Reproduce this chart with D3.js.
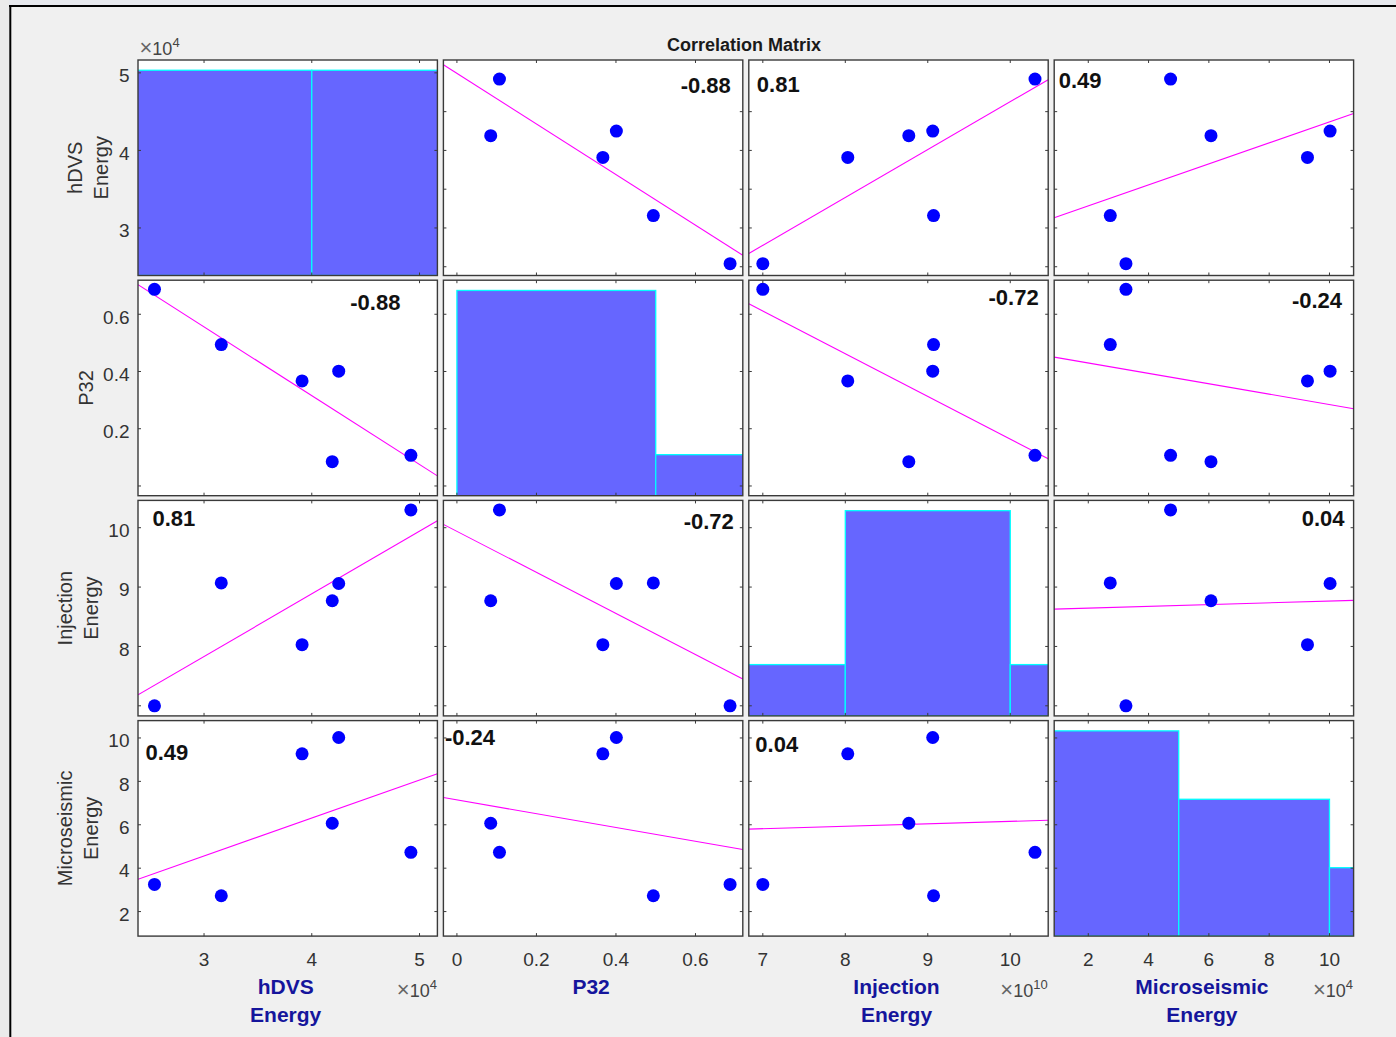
<!DOCTYPE html>
<html>
<head>
<meta charset="utf-8">
<script src="https://cdn.jsdelivr.net/npm/d3@7"></script>
<style>
  html, body { margin: 0; padding: 0; background: #f0f0f0; }
  svg { display: block; font-family: "Liberation Sans", Arial, Helvetica, sans-serif; }
</style>
</head>
<body>
<svg id="chart" width="1396" height="1037"></svg>
<script>
// ---- data: six stages, four variables ----
// hDVS energy and microseismic energy in units of 1e4, injection energy in units of 1e10
const labelLines = [["hDVS", "Energy"], ["P32"], ["Injection", "Energy"], ["Microseismic", "Energy"]];
const exponents = ["4", null, "10", "4"];

const hdvsEnergy         = [2.54, 3.16, 3.91, 4.25, 4.19, 4.92];
const p32                = [0.687, 0.494, 0.367, 0.401, 0.085, 0.107];
const injectionEnergy    = [7.00, 9.07, 8.03, 9.06, 8.77, 10.30];
const microseismicEnergy = [3.25, 2.73, 9.27, 10.02, 6.07, 4.73];

// axis limits per variable
const axisLimits = [[2.387, 5.166], [-0.034, 0.719], [6.83, 10.46], [0.87, 10.80]];
// tick marks per variable (x direction and diagonal panels)
const tickValues = [[3, 4, 5], [0, 0.2, 0.4, 0.6], [7, 8, 9, 10], [2, 4, 6, 8, 10]];
// tick marks along y on off-diagonal panels of each row
const rowTickValues = [[2.5, 3, 3.5, 4, 4.5], [0, 0.2, 0.4, 0.6], [7, 8, 9, 10], [2, 4, 6, 8, 10]];
// labelled ticks
const yTickLabels = [[3, 4, 5], [0.2, 0.4, 0.6], [8, 9, 10], [2, 4, 6, 8, 10]];
const xTickLabels = [[3, 4, 5], [0, 0.2, 0.4, 0.6], [7, 8, 9, 10], [2, 4, 6, 8, 10]];
// histogram bin edges on the diagonal
const binEdges = [[2, 4, 6], [0, 0.5, 1.0], [6, 8, 10, 12], [0, 5, 10, 15]];
// Pearson correlation coefficients
const correlations = [
  [1.00, -0.88, 0.81, 0.49],
  [-0.88, 1.00, -0.72, -0.24],
  [0.81, -0.72, 1.00, 0.04],
  [0.49, -0.24, 0.04, 1.00]
];

// ---- layout ----
const series = [hdvsEnergy, p32, injectionEnergy, microseismicEnergy];
const nVar = series.length;
const left0 = 138, top0 = 60, colStep = 305.4, rowStep = 220.2, pw = 299.4, ph = 215.5;
const tickLen = 3;
const axisColor = "#3a3a3a";
const textColor = "#333333";

// where each coefficient sits inside its panel (offset from the left or right edge, baseline from top)
const rLabelPlacement = {
  "0-1": { anchor: "end",   dx: -12,  dy: 32.5 },
  "0-2": { anchor: "start", dx: 8,    dy: 32 },
  "0-3": { anchor: "start", dx: 4.5,  dy: 28 },
  "1-0": { anchor: "end",   dx: -37,  dy: 29.5 },
  "1-2": { anchor: "end",   dx: -9.5, dy: 25 },
  "1-3": { anchor: "end",   dx: -11.5,dy: 28 },
  "2-0": { anchor: "start", dx: 14.5, dy: 26 },
  "2-1": { anchor: "end",   dx: -9,   dy: 29 },
  "2-3": { anchor: "end",   dx: -9,   dy: 26 },
  "3-0": { anchor: "start", dx: 7.5,  dy: 39 },
  "3-1": { anchor: "start", dx: 1.5,  dy: 24 },
  "3-2": { anchor: "start", dx: 6.5,  dy: 31 }
};

const svg = d3.select("#chart");

// figure background and frame
svg.append("rect").attr("width", 1396).attr("height", 1037).attr("fill", "#f0f0f0");
svg.append("rect").attr("x", 0).attr("y", 0).attr("width", 1396).attr("height", 5).attr("fill", "#e7e9ee");
svg.append("rect").attr("x", 0).attr("y", 0).attr("width", 9).attr("height", 1037).attr("fill", "#ebebeb");
svg.append("line").attr("x1", 9).attr("x2", 1396).attr("y1", 6).attr("y2", 6)
  .attr("stroke", "#000").attr("stroke-width", 2);
svg.append("line").attr("x1", 10.3).attr("x2", 10.3).attr("y1", 5).attr("y2", 1037)
  .attr("stroke", "#000").attr("stroke-width", 2);

const xScales = axisLimits.map(d => d3.scaleLinear().domain(d).range([0, pw]));
const yScales = axisLimits.map(d => d3.scaleLinear().domain(d).range([ph, 0]));

// two decimals with a plain hyphen for negatives
const fmtR = v => d3.format(".2f")(v).replace("\u2212", "-");

function leastSquares(xs, ys) {
  const mx = d3.mean(xs), my = d3.mean(ys);
  let sxy = 0, sxx = 0;
  xs.forEach((x, i) => { sxy += (x - mx) * (ys[i] - my); sxx += (x - mx) * (x - mx); });
  const b = sxy / sxx;
  return { a: my - b * mx, b };
}

const defs = svg.append("defs");

for (let r = 0; r < nVar; r++) {
  for (let c = 0; c < nVar; c++) {
    const px = left0 + c * colStep, py = top0 + r * rowStep;
    const g = svg.append("g").attr("transform", `translate(${px},${py})`);
    const clipId = `clip-${r}-${c}`;
    defs.append("clipPath").attr("id", clipId)
      .append("rect").attr("width", pw).attr("height", ph);

    g.append("rect").attr("width", pw).attr("height", ph).attr("fill", "#ffffff");
    const inner = g.append("g").attr("clip-path", `url(#${clipId})`);
    const xs = xScales[c], ys = yScales[r];

    if (r === c) {
      // histogram of the variable
      const vals = series[c];
      const edges = binEdges[c];
      const bins = d3.range(edges.length - 1).map(i => ({
        x0: edges[i], x1: edges[i + 1],
        count: vals.filter(v => v >= edges[i] && (v < edges[i + 1] || (i === edges.length - 2 && v <= edges[i + 1]))).length
      }));
      const yc = d3.scaleLinear().domain([0, d3.max(bins, b => b.count) * 1.05]).range([ph, 0]);
      inner.selectAll("rect.bar").data(bins).join("rect")
        .attr("class", "bar")
        .attr("x", b => xs(b.x0))
        .attr("width", b => xs(b.x1) - xs(b.x0))
        .attr("y", b => yc(b.count))
        .attr("height", b => ph - yc(b.count))
        .attr("fill", "#6666ff")
        .attr("stroke", "#00ffff")
        .attr("stroke-width", 1.3);
    } else {
      // least-squares line and scatter
      const fit = leastSquares(series[c], series[r]);
      const [d0, d1] = xs.domain();
      inner.append("line")
        .attr("x1", xs(d0)).attr("y1", ys(fit.a + fit.b * d0))
        .attr("x2", xs(d1)).attr("y2", ys(fit.a + fit.b * d1))
        .attr("stroke", "#ff00ff").attr("stroke-width", 1.1);
      const pts = series[c].map((v, i) => [v, series[r][i]]);
      inner.selectAll("circle").data(pts).join("circle")
        .attr("cx", d => xs(d[0])).attr("cy", d => ys(d[1]))
        .attr("r", 6.5).attr("fill", "#0000ff");

      const pl = rLabelPlacement[`${r}-${c}`];
      g.append("text")
        .attr("x", pl.anchor === "end" ? pw + pl.dx : pl.dx)
        .attr("y", pl.dy)
        .attr("text-anchor", pl.anchor)
        .attr("font-size", 22).attr("font-weight", "bold").attr("fill", "#111")
        .text(fmtR(correlations[r][c]));
    }

    // panel border
    g.append("rect").attr("width", pw).attr("height", ph)
      .attr("fill", "none").attr("stroke", axisColor).attr("stroke-width", 1.4);

    // inward ticks on all four sides
    const xt = tickValues[c];
    const ytVals = r === c ? tickValues[r] : rowTickValues[r];
    const tickG = g.append("g").attr("stroke", axisColor).attr("stroke-width", 1);
    xt.forEach(v => {
      const x = xs(v);
      tickG.append("line").attr("x1", x).attr("x2", x).attr("y1", 0).attr("y2", tickLen);
      tickG.append("line").attr("x1", x).attr("x2", x).attr("y1", ph).attr("y2", ph - tickLen);
    });
    ytVals.forEach(v => {
      const y = ys(v);
      tickG.append("line").attr("x1", 0).attr("x2", tickLen).attr("y1", y).attr("y2", y);
      tickG.append("line").attr("x1", pw).attr("x2", pw - tickLen).attr("y1", y).attr("y2", y);
    });
  }
}

// ---- tick labels ----
const tickFont = 19;
for (let r = 0; r < nVar; r++) {
  const py = top0 + r * rowStep;
  const rowG = svg.append("g").attr("class", `ylabels-${r}`);
  yTickLabels[r].forEach(v => {
    rowG.append("text")
      .attr("x", left0 - 8.5)
      .attr("y", py + yScales[r](v) + 9.3)
      .attr("text-anchor", "end")
      .attr("font-size", tickFont).attr("fill", textColor)
      .text(String(v));
  });
  // variable name on the left, placed clear of the tick labels
  const minX = d3.min(rowG.selectAll("text").nodes(), n => n.getBBox().x);
  const lines = labelLines[r];
  const lastBase = minX - 10.5;
  const cy = py + ph / 2;
  lines.forEach((t, i) => {
    const bx = lastBase - (lines.length - 1 - i) * 26;
    svg.append("text")
      .attr("transform", `translate(${bx},${cy}) rotate(-90)`)
      .attr("text-anchor", "middle")
      .attr("font-size", 20).attr("fill", textColor)
      .text(t);
  });
}

// "×10^n" multiplier text
function multiplier(sel, exp) {
  sel.append("tspan").attr("font-size", 22).attr("fill", "#666").text("\u00d7");
  sel.append("tspan").text("10");
  sel.append("tspan").attr("dy", -8).attr("font-size", 13).text(exp);
}

const bottom = top0 + 3 * rowStep + ph;
for (let c = 0; c < nVar; c++) {
  const px = left0 + c * colStep;
  xTickLabels[c].forEach(v => {
    svg.append("text")
      .attr("x", px + xScales[c](v))
      .attr("y", bottom + 29.5)
      .attr("text-anchor", "middle")
      .attr("font-size", tickFont).attr("fill", textColor)
      .text(String(v));
  });
  // variable name below, bold navy
  labelLines[c].forEach((t, i) => {
    svg.append("text")
      .attr("x", px + pw / 2 - 2)
      .attr("y", bottom + 58 + i * 27.7)
      .attr("text-anchor", "middle")
      .attr("font-size", 21).attr("font-weight", "bold").attr("fill", "#15159c")
      .text(t);
  });
  if (exponents[c]) {
    const t = svg.append("text")
      .attr("x", px + pw - 0.5)
      .attr("y", bottom + 60.5)
      .attr("text-anchor", "end")
      .attr("font-size", 18).attr("fill", "#444");
    multiplier(t, exponents[c]);
  }
}

// multiplier for the top-left y axis
multiplier(svg.append("text").attr("x", 139.5).attr("y", 55)
  .attr("font-size", 18).attr("fill", "#444"), exponents[0]);

// title
svg.append("text")
  .attr("x", 744).attr("y", 51)
  .attr("text-anchor", "middle")
  .attr("font-size", 18).attr("font-weight", "bold").attr("fill", "#1a1a1a")
  .text("Correlation Matrix");
</script>
</body>
</html>
